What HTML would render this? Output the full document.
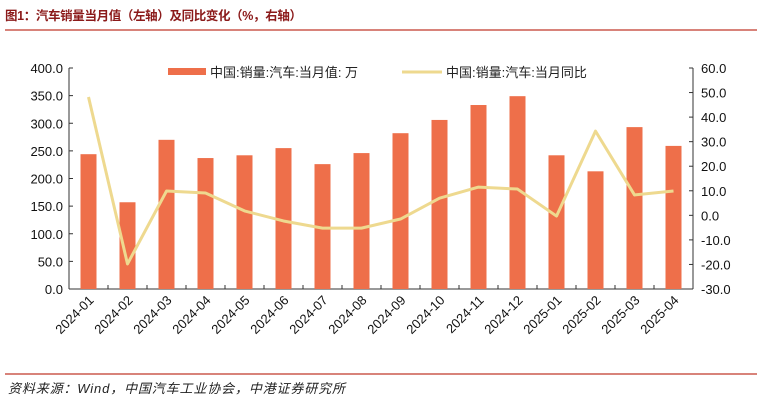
<!DOCTYPE html>
<html><head><meta charset="utf-8"><style>
body{margin:0;background:#fff;width:762px;height:403px;overflow:hidden;font-family:"Liberation Sans","Noto Sans CJK SC",sans-serif}
</style></head><body>
<svg width="762" height="403" font-family="Liberation Sans, Noto Sans CJK SC, sans-serif">
<text x="5" y="20" font-size="12.5" font-weight="bold" fill="#8B1A1A" textLength="297">图1：汽车销量当月值（左轴）及同比变化（%，右轴）</text>
<line x1="5" y1="30" x2="757" y2="30" stroke="#C0392B" stroke-width="1.2"/>
<g id="plot"></g>
<line x1="5" y1="374" x2="757" y2="374" stroke="#C0392B" stroke-width="1.2"/>
<text x="8" y="393" font-size="13" font-style="italic" fill="#222" textLength="337">资料来源：Wind，中国汽车工业协会，中港证券研究所</text>
</svg>
<script>
const categories=["2024-01","2024-02","2024-03","2024-04","2024-05","2024-06","2024-07","2024-08","2024-09","2024-10","2024-11","2024-12","2025-01","2025-02","2025-03","2025-04"];
const salesValues=[244,157,270,237,242,255,226,246,282,306,333,349,242,213,293,259];
const yoyValues=[48.2,-19.8,9.9,9.1,1.8,-2.3,-5.2,-5.2,-1.5,7.0,11.5,10.7,-0.3,34.3,8.3,9.9];
const leftTicks=[0,50,100,150,200,250,300,350,400];
const rightTicks=[-30,-20,-10,0,10,20,30,40,50,60];
const NS="http://www.w3.org/2000/svg";
const g=document.getElementById('plot');
const X0=69,BW=39,Y0=289,Y1=68;
const yL=v=>Y0-(v/400)*(Y0-Y1);
const yR=v=>Y0-((v+30)/90)*(Y0-Y1);
const xC=i=>X0+BW*i+BW/2;
function mk(t,a){const e=document.createElementNS(NS,t);for(const k in a)e.setAttribute(k,a[k]);g.appendChild(e);return e;}
let e;
e=mk('line',{x1:X0,y1:Y1,x2:X0,y2:Y0,stroke:'#333'});


e=mk('line',{x1:X0+BW*16,y1:Y1,x2:X0+BW*16,y2:Y0,stroke:'#333'});


e=mk('line',{x1:X0,y1:Y0,x2:X0+BW*16,y2:Y0,stroke:'#333'});


leftTicks.forEach(v=>{
 e=mk('line',{x1:X0,y1:yL(v),x2:X0+4,y2:yL(v),stroke:'#333'});
 
 
 e=mk('text',{x:X0-6,y:yL(v)+5,'text-anchor':'end','font-size':'13',fill:'#111'});e.textContent=v.toFixed(1);
 
 
});
rightTicks.forEach(v=>{
 const xr=X0+BW*16;
 e=mk('line',{x1:xr-4,y1:yR(v),x2:xr,y2:yR(v),stroke:'#333'});
 
 
 e=mk('text',{x:xr+8,y:yR(v)+5,'font-size':'13',fill:'#111'});e.textContent=v.toFixed(1);
 
 
});
categories.forEach((c,i)=>{
 e=mk('line',{x1:X0+BW*(i+1),y1:Y0,x2:X0+BW*(i+1),y2:Y0-4,stroke:'#333'});
 
 
 e=mk('rect',{x:xC(i)-8,y:yL(salesValues[i]),width:16,height:Y0-yL(salesValues[i]),fill:'#EE6F4A'});
 
 
 e=mk('text',{x:xC(i)+6,y:Y0+12,'text-anchor':'end','font-size':'13',fill:'#111',transform:`rotate(-45 ${xC(i)+6} ${Y0+12})`});e.textContent=c;
 
 
});
e=mk('polyline',{points:yoyValues.map((v,i)=>xC(i)+','+yR(v)).join(' '),fill:'none',stroke:'#EED98F','stroke-width':'3','stroke-linejoin':'round'});


e=mk('rect',{x:168,y:68,width:38,height:7,fill:'#EE6F4A'});


e=mk('text',{x:210,y:77,'font-size':'13',fill:'#222'});e.textContent='中国:销量:汽车:当月值: 万';


e=mk('line',{x1:402,y1:72,x2:442,y2:72,stroke:'#EED98F','stroke-width':'3'});


e=mk('text',{x:446,y:77,'font-size':'13',fill:'#222'});e.textContent='中国:销量:汽车:当月同比';


</script>
</body></html>
